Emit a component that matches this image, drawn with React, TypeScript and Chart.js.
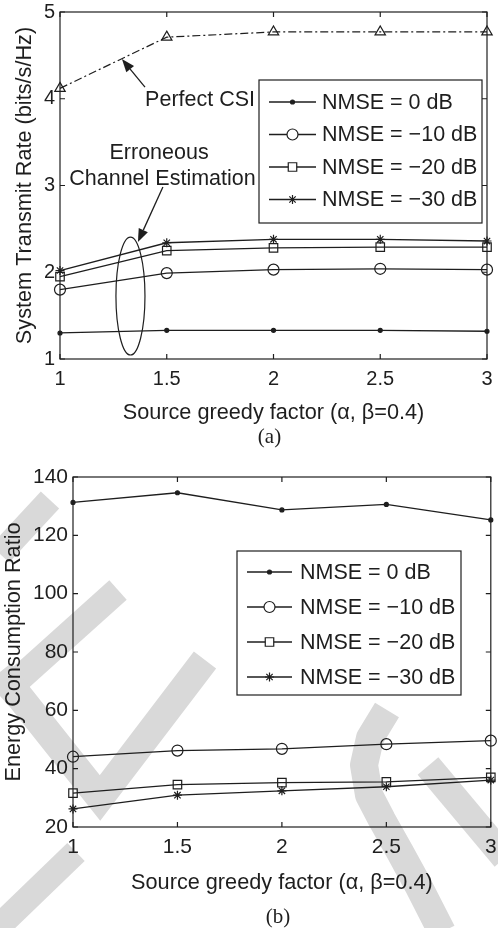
import { useEffect, useRef } from 'react';
import { Chart, registerables } from 'chart.js';
import { drawPoint } from 'chart.js/helpers';

Chart.register(...registerables);

const INK = '#1e1e1e';
const SANS = '"Liberation Sans", Arial, Helvetica, sans-serif';
const SERIF = '"Liberation Serif", "Times New Roman", serif';

// ---------- data ----------
const X_VALUES = [1, 1.5, 2, 2.5, 3];
const X_TICKS = [1, 1.5, 2, 2.5, 3];

const RATE_PERFECT_CSI = [4.12, 4.71, 4.77, 4.77, 4.77];
const RATE_NMSE_0 = [1.3, 1.33, 1.33, 1.33, 1.32];
const RATE_NMSE_10 = [1.8, 1.99, 2.03, 2.04, 2.03];
const RATE_NMSE_20 = [1.95, 2.25, 2.28, 2.29, 2.29];
const RATE_NMSE_30 = [2.02, 2.34, 2.38, 2.38, 2.36];
const RATE_TICKS = [1, 2, 3, 4, 5];

const ECR_NMSE_0 = [131.3, 134.6, 128.7, 130.6, 125.3];
const ECR_NMSE_10 = [44.1, 46.2, 46.8, 48.4, 49.6];
const ECR_NMSE_20 = [31.6, 34.5, 35.2, 35.5, 37.0];
const ECR_NMSE_30 = [26.2, 30.9, 32.4, 33.8, 36.1];
const ECR_TICKS = [20, 40, 60, 80, 100, 120, 140];

const NMSE_LABELS = ['NMSE = 0 dB', 'NMSE = \u221210 dB', 'NMSE = \u221220 dB', 'NMSE = \u221230 dB'];
const PERFECT_LABEL = 'Perfect CSI';
const X_TITLE = 'Source greedy factor (\u03b1, \u03b2=0.4)';
const RATE_Y_TITLE = 'System Transmit Rate (bits/s/Hz)';
const ECR_Y_TITLE = 'Energy Consumption Ratio';

// ---------- styles ----------
type Marker = { style: string; radius: number; fill: boolean };
const NMSE_MARKERS: Marker[] = [
  { style: 'circle', radius: 2, fill: true },
  { style: 'circle', radius: 5.5, fill: false },
  { style: 'rect', radius: 6, fill: false },
  { style: 'star', radius: 4.5, fill: false },
];
const CSI_MARKER: Marker = { style: 'triangle', radius: 6, fill: false };

function makeDataset(label: string, values: number[], marker: Marker, extra: any = {}) {
  return {
    label,
    data: X_VALUES.map((x, i) => ({ x, y: values[i] })),
    borderColor: INK,
    borderWidth: 1.3,
    pointStyle: marker.style,
    pointRadius: marker.radius,
    pointHoverRadius: marker.radius,
    pointBorderColor: INK,
    pointBorderWidth: 1.2,
    pointBackgroundColor: marker.fill ? INK : 'rgba(0,0,0,0)',
    tension: 0,
    fill: false,
    clip: false,
    _marker: marker,
    ...extra,
  };
}

// ---------- plugins ----------
const framePlugin = {
  id: 'matlabFrame',
  afterDatasetsDraw(chart: any) {
    const { ctx, chartArea: a, scales } = chart;
    ctx.save();
    ctx.strokeStyle = INK;
    ctx.lineWidth = 1.2;
    ctx.strokeRect(a.left, a.top, a.right - a.left, a.bottom - a.top);
    const L = 5;
    ctx.beginPath();
    scales.x.ticks.forEach((t: any) => {
      const p = scales.x.getPixelForValue(t.value);
      ctx.moveTo(p, a.bottom); ctx.lineTo(p, a.bottom - L);
      ctx.moveTo(p, a.top); ctx.lineTo(p, a.top + L);
    });
    scales.y.ticks.forEach((t: any) => {
      const p = scales.y.getPixelForValue(t.value);
      ctx.moveTo(a.left, p); ctx.lineTo(a.left + L, p);
      ctx.moveTo(a.right, p); ctx.lineTo(a.right - L, p);
    });
    ctx.stroke();
    ctx.restore();
  },
};

function makeLegendPlugin(cfg: {
  indices: number[]; box: [number, number, number, number]; rows: number[];
  lineFrom: number; lineTo: number; textX: number;
}) {
  return {
    id: 'boxLegend',
    afterDraw(chart: any) {
      const ctx = chart.ctx;
      const [x0, y0, x1, y1] = cfg.box;
      ctx.save();
      ctx.fillStyle = '#fff';
      ctx.fillRect(x0, y0, x1 - x0, y1 - y0);
      ctx.strokeStyle = INK;
      ctx.lineWidth = 1.2;
      ctx.strokeRect(x0, y0, x1 - x0, y1 - y0);
      cfg.indices.forEach((di, k) => {
        const ds = chart.data.datasets[di];
        const y = cfg.rows[k];
        ctx.strokeStyle = INK;
        ctx.lineWidth = 1.3;
        ctx.beginPath();
        ctx.moveTo(cfg.lineFrom, y);
        ctx.lineTo(cfg.lineTo, y);
        ctx.stroke();
        const m: Marker = ds._marker;
        ctx.fillStyle = m.fill ? INK : '#fff';
        ctx.lineWidth = 1.2;
        drawPoint(ctx, { pointStyle: m.style as any, radius: m.radius, rotation: 0, borderWidth: 1.2 } as any,
          (cfg.lineFrom + cfg.lineTo) / 2, y);
        ctx.fillStyle = INK;
        ctx.font = `21.5px ${SANS}`;
        ctx.textAlign = 'left';
        ctx.textBaseline = 'middle';
        ctx.fillText(ds.label, cfg.textX, y + 1);
      });
      ctx.restore();
    },
  };
}

function makeCaptionPlugin(cfg: { xTitle: string; xTitleY: number; sub: string; subY: number; yTitle: string; yTitleX: number }) {
  return {
    id: 'captions',
    afterDraw(chart: any) {
      const { ctx, chartArea: a } = chart;
      ctx.save();
      ctx.fillStyle = INK;
      ctx.textAlign = 'center';
      ctx.textBaseline = 'middle';
      ctx.font = `21.7px ${SANS}`;
      ctx.fillText(cfg.xTitle, (a.left + a.right) / 2, cfg.xTitleY);
      ctx.font = `21px ${SERIF}`;
      ctx.fillText(cfg.sub, (a.left + a.right) / 2 - 4, cfg.subY);
      ctx.translate(cfg.yTitleX, (a.top + a.bottom) / 2);
      ctx.rotate(-Math.PI / 2);
      ctx.font = `21.7px ${SANS}`;
      ctx.fillText(cfg.yTitle, 0, 0);
      ctx.restore();
    },
  };
}

// annotation positions in data units of the rate chart
const CSI_NOTE = { x: 1.656, y: 3.99, text: 'Perfect CSI' };
const CSI_ARROW = { from: [1.398, 4.135], to: [1.29, 4.458] };
const ERR_NOTES = [
  { x: 1.464, y: 3.375, text: 'Erroneous' },
  { x: 1.48, y: 3.069, text: 'Channel Estimation' },
];
const ERR_ARROW = { from: [1.482, 2.983], to: [1.365, 2.349] };
const ERR_ELLIPSE = { x: 1.33, y: 1.726, rx: 0.068, ry: 0.68 };

const annotationPlugin = {
  id: 'rateNotes',
  afterDatasetsDraw(chart: any) {
    const { ctx, scales } = chart;
    const X = (v: number) => scales.x.getPixelForValue(v);
    const Y = (v: number) => scales.y.getPixelForValue(v);
    ctx.save();
    ctx.fillStyle = INK;
    ctx.strokeStyle = INK;
    ctx.font = `21.5px ${SANS}`;
    ctx.textAlign = 'center';
    ctx.textBaseline = 'middle';
    ctx.fillText(CSI_NOTE.text, X(CSI_NOTE.x), Y(CSI_NOTE.y));
    ERR_NOTES.forEach((n) => ctx.fillText(n.text, X(n.x), Y(n.y)));
    const arrow = (a: any) => {
      const x0 = X(a.from[0]), y0 = Y(a.from[1]), x1 = X(a.to[0]), y1 = Y(a.to[1]);
      const ang = Math.atan2(y1 - y0, x1 - x0);
      const len = 13, hw = 5;
      const bx = x1 - len * Math.cos(ang), by = y1 - len * Math.sin(ang);
      ctx.lineWidth = 1.3;
      ctx.beginPath();
      ctx.moveTo(x0, y0);
      ctx.lineTo(bx, by);
      ctx.stroke();
      ctx.beginPath();
      ctx.moveTo(x1, y1);
      ctx.lineTo(bx + hw * Math.sin(ang), by - hw * Math.cos(ang));
      ctx.lineTo(bx - hw * Math.sin(ang), by + hw * Math.cos(ang));
      ctx.closePath();
      ctx.fill();
    };
    arrow(CSI_ARROW);
    arrow(ERR_ARROW);
    const cx = X(ERR_ELLIPSE.x), cy = Y(ERR_ELLIPSE.y);
    const rx = Math.abs(X(ERR_ELLIPSE.x + ERR_ELLIPSE.rx) - cx);
    const ry = Math.abs(Y(ERR_ELLIPSE.y + ERR_ELLIPSE.ry) - cy);
    ctx.lineWidth = 1.2;
    ctx.beginPath();
    ctx.ellipse(cx, cy, rx, ry, 0, 0, Math.PI * 2);
    ctx.stroke();
    ctx.restore();
  },
};

// faint background watermark strokes on the lower figure (canvas pixels)
const WATERMARK_STROKES: { w: number; pts: number[][]; join: string }[] = [
  { w: 25, join: 'miter', pts: [[50, 40], [0, 94]] },
  { w: 26, join: 'miter', pts: [[118, 130], [0, 236]] },
  { w: 28, join: 'miter', pts: [[0, 212], [100, 338], [205, 200]] },
  { w: 25, join: 'miter', pts: [[76, 392], [-10, 475]] },
  { w: 28, join: 'round', pts: [[387, 250], [370, 278], [364, 305], [369, 335], [382, 360], [400, 392], [418, 425], [442, 472]] },
  { w: 27, join: 'miter', pts: [[428, 306], [505, 398]] },
];
const watermarkPlugin = {
  id: 'watermark',
  beforeDraw(chart: any) {
    const ctx = chart.ctx;
    ctx.save();
    ctx.strokeStyle = '#d9d9d9';
    ctx.lineCap = 'butt';
    WATERMARK_STROKES.forEach((s) => {
      ctx.lineWidth = s.w;
      ctx.lineJoin = s.join;
      ctx.beginPath();
      s.pts.forEach(([x, y], i) => (i ? ctx.lineTo(x, y) : ctx.moveTo(x, y)));
      ctx.stroke();
    });
    ctx.restore();
  },
};

function axisOptions(min: number, max: number, ticks: number[], width: number, height: number, fontSize: number) {
  return {
    x: {
      type: 'linear', min: 1, max: 3,
      grid: { display: false, drawTicks: false },
      border: { display: false },
      afterBuildTicks: (s: any) => { s.ticks = X_TICKS.map((v) => ({ value: v })); },
      ticks: { callback: (v: any) => String(v), color: INK, padding: 8, font: { family: SANS, size: fontSize }, maxRotation: 0, autoSkip: false },
      afterFit: (s: any) => { s.height = height; s.paddingLeft = 0; s.paddingRight = 0; },
    },
    y: {
      type: 'linear', min, max,
      grid: { display: false, drawTicks: false },
      border: { display: false },
      afterBuildTicks: (s: any) => { s.ticks = ticks.map((v) => ({ value: v })); },
      ticks: { callback: (v: any) => String(v), color: INK, padding: 5, font: { family: SANS, size: fontSize }, autoSkip: false },
      afterFit: (s: any) => { s.width = width; s.paddingTop = 0; s.paddingBottom = 0; },
    },
  };
}

function RateChart() {
  const ref = useRef<HTMLCanvasElement>(null);
  useEffect(() => {
    const datasets = [
      makeDataset(PERFECT_LABEL, RATE_PERFECT_CSI, CSI_MARKER, { borderDash: [8, 3, 2, 3], borderWidth: 1.2 }),
      makeDataset(NMSE_LABELS[0], RATE_NMSE_0, NMSE_MARKERS[0]),
      makeDataset(NMSE_LABELS[1], RATE_NMSE_10, NMSE_MARKERS[1]),
      makeDataset(NMSE_LABELS[2], RATE_NMSE_20, NMSE_MARKERS[2]),
      makeDataset(NMSE_LABELS[3], RATE_NMSE_30, NMSE_MARKERS[3]),
    ];
    const chart = new Chart(ref.current!, {
      type: 'line',
      data: { datasets } as any,
      options: {
        responsive: false,
        animation: false,
        devicePixelRatio: 1,
        layout: { padding: { top: 12, right: 11, left: 0, bottom: 0 } },
        plugins: { legend: { display: false }, tooltip: { enabled: false } },
        scales: axisOptions(1, 5, RATE_TICKS, 60, 101, 20) as any,
      },
      plugins: [
        annotationPlugin,
        framePlugin,
        makeLegendPlugin({ indices: [1, 2, 3, 4], box: [259, 80, 482, 223], rows: [102, 134.5, 167, 199.5], lineFrom: 269, lineTo: 316, textX: 322 }),
        makeCaptionPlugin({ xTitle: X_TITLE, xTitleY: 413, sub: '(a)', subY: 437, yTitle: RATE_Y_TITLE, yTitleX: 25 }),
      ],
    });
    return () => chart.destroy();
  }, []);
  return <canvas ref={ref} width={498} height={460} style={{ display: 'block' }} />;
}

function EnergyChart() {
  const ref = useRef<HTMLCanvasElement>(null);
  useEffect(() => {
    const datasets = [
      makeDataset(NMSE_LABELS[0], ECR_NMSE_0, NMSE_MARKERS[0]),
      makeDataset(NMSE_LABELS[1], ECR_NMSE_10, NMSE_MARKERS[1]),
      makeDataset(NMSE_LABELS[2], ECR_NMSE_20, NMSE_MARKERS[2]),
      makeDataset(NMSE_LABELS[3], ECR_NMSE_30, NMSE_MARKERS[3]),
    ];
    const chart = new Chart(ref.current!, {
      type: 'line',
      data: { datasets } as any,
      options: {
        responsive: false,
        animation: false,
        devicePixelRatio: 1,
        layout: { padding: { top: 17, right: 3, left: 0, bottom: 0 } },
        plugins: { legend: { display: false }, tooltip: { enabled: false } },
        scales: axisOptions(20, 140, ECR_TICKS, 73, 101, 21) as any,
      },
      plugins: [
        watermarkPlugin,
        framePlugin,
        makeLegendPlugin({ indices: [0, 1, 2, 3], box: [237, 91, 461, 235], rows: [112, 147, 182, 217], lineFrom: 247, lineTo: 292, textX: 300 }),
        makeCaptionPlugin({ xTitle: X_TITLE, xTitleY: 423, sub: '(b)', subY: 457, yTitle: ECR_Y_TITLE, yTitleX: 14 }),
      ],
    });
    return () => chart.destroy();
  }, []);
  return <canvas ref={ref} width={498} height={468} style={{ display: 'block' }} />;
}

export default function App() {
  return (
    <div style={{ position: 'absolute', left: 0, top: 0, width: 498, height: 928, background: '#fff' }}>
      <RateChart />
      <EnergyChart />
    </div>
  );
}
